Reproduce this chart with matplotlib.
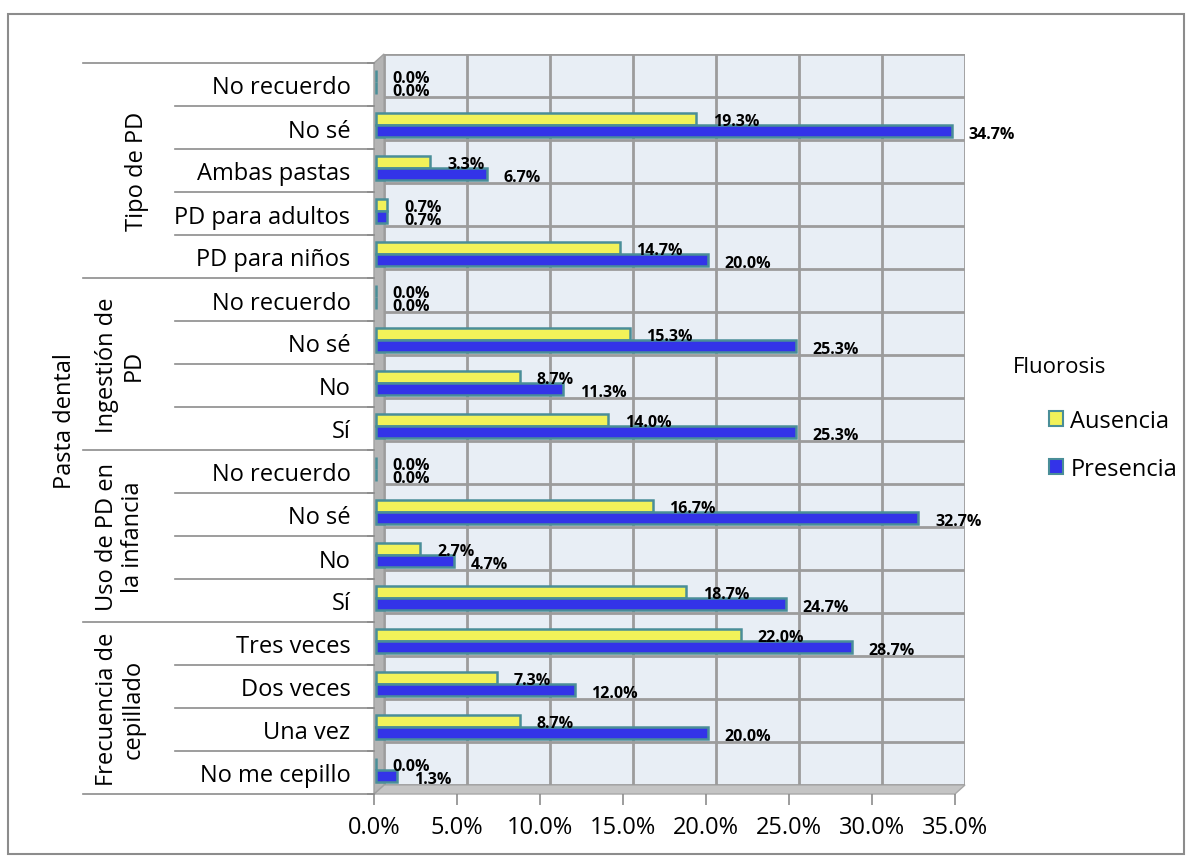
import matplotlib
matplotlib.use('Agg')
import matplotlib.pyplot as plt
from matplotlib.patches import Patch, Polygon, Rectangle
import numpy as np

plt.rcParams['font.family'] = ['Open Sans', 'DejaVu Sans']

# datos (de arriba hacia abajo)
grupos = ['Tipo de PD', 'Ingestión de\nPD', 'Uso de PD en\nla infancia', 'Frecuencia de\ncepillado']
categorias = [
    ['No recuerdo', 'No sé', 'Ambas pastas', 'PD para adultos', 'PD para niños'],
    ['No recuerdo', 'No sé', 'No', 'Sí'],
    ['No recuerdo', 'No sé', 'No', 'Sí'],
    ['Tres veces', 'Dos veces', 'Una vez', 'No me cepillo'],
]
ausencia = [0.0, 19.3, 3.3, 0.7, 14.7,
            0.0, 15.3, 8.7, 14.0,
            0.0, 16.7, 2.7, 18.7,
            22.0, 7.3, 8.7, 0.0]
presencia = [0.0, 34.7, 6.7, 0.7, 20.0,
             0.0, 25.3, 11.3, 25.3,
             0.0, 32.7, 4.7, 24.7,
             28.7, 12.0, 20.0, 1.3]
xticks = [0, 5, 10, 15, 20, 25, 30, 35]

etiquetas = [c for g in categorias for c in g]
n = len(etiquetas)
y = np.arange(n)

W, H = 1192, 862
fig = plt.figure(figsize=(W / 100, H / 100), dpi=100)

def fx(px):
    return px / W

def fy(py):
    return 1 - py / H

# marco exterior
fig.patches.append(Rectangle((fx(8), fy(855)), fx(1176), 840 / H, transform=fig.transFigure,
                             fill=False, edgecolor='#8c8c8c', linewidth=1.5))

# pared del fondo (efecto 3D)
x0, x1, ytop, ybot = 374, 955, 64, 795
dx, dy = 10, 9
axw = fig.add_axes([fx(x0 + dx), fy(ybot - dy), fx(x1 - x0), (ybot - ytop) / H])
axw.set_facecolor('#E8EEF5')
axw.set_xlim(0, 35)
axw.set_ylim(n - 0.5, -0.5)
for v in xticks:
    axw.axvline(v, color='#9c9c9c', lw=2)
for b in np.arange(-0.5, n, 1):
    axw.axhline(b, color='#9c9c9c', lw=2)
axw.set_xticks([])
axw.set_yticks([])
for s in axw.spines.values():
    s.set_visible(False)

# piso y pared lateral
fig.patches.append(Polygon([(fx(x0), fy(ybot)), (fx(x1), fy(ybot)), (fx(x1 + dx), fy(ybot - dy)),
                            (fx(x0 + dx), fy(ybot - dy))], closed=True, transform=fig.transFigure,
                           facecolor='#c4c4c4', edgecolor='#a8a8a8', lw=1, zorder=-1))
fig.patches.append(Polygon([(fx(x0), fy(ytop)), (fx(x0 + dx), fy(ytop - dy)), (fx(x0 + dx), fy(ybot - dy)),
                            (fx(x0), fy(ybot))], closed=True, transform=fig.transFigure,
                           facecolor='#b4b4b4', edgecolor='#a0a0a0', lw=1, zorder=-1))

ax = fig.add_axes([fx(x0), fy(ybot), fx(x1 - x0), (ybot - ytop) / H])
ax.patch.set_alpha(0)
ax.set_xlim(0, 35)
ax.set_ylim(n - 0.5, -0.5)

borde = '#4A8E98'
ax.barh(y - 0.2, ausencia, left=0.1, height=0.27, color='#F2F259', edgecolor=borde, linewidth=1.8, zorder=3)
ax.barh(y + 0.08, presencia, left=0.1, height=0.27, color='#3333E8', edgecolor=borde, linewidth=1.8, zorder=3)

for i in range(n):
    ax.text(ausencia[i] + 1.1, y[i] - 0.16, f'{ausencia[i]:.1f}%', va='center', ha='left',
            fontsize=11.5, fontweight='bold', zorder=5)
    ax.text(presencia[i] + 1.1, y[i] + 0.16, f'{presencia[i]:.1f}%', va='center', ha='left',
            fontsize=11.5, fontweight='bold', zorder=5)

for s in ax.spines.values():
    s.set_visible(False)
ax.set_xticks(xticks)
ax.set_xticklabels([f'{v:.1f}%' for v in xticks], fontsize=17)
ax.tick_params(axis='x', length=8, width=1.2, color='#8c8c8c', pad=7)
ax.set_yticks(y)
ax.set_yticklabels(etiquetas, fontsize=17)
ax.tick_params(axis='y', length=0, pad=17)
ax.set_yticks(np.arange(-0.5, n, 1), minor=True)
ax.tick_params(axis='y', which='minor', length=5, width=1.2, color='#8c8c8c')

# líneas separadoras de la zona de etiquetas
tr = ax.get_yaxis_transform()
inner = (175 - x0) / (x1 - x0)
outer = (83 - x0) / (x1 - x0)
inicio = 0
bordes = [-0.5]
for g in categorias:
    inicio += len(g)
    bordes.append(inicio - 0.5)
for b in np.arange(-0.5, n, 1):
    xs = outer if b in bordes else inner
    ax.plot([xs, 0], [b, b], transform=tr, color='#8c8c8c', lw=1.2, clip_on=False)

gx = [137, 120, 120, 120]
for k, g in enumerate(grupos):
    centro = (bordes[k] + bordes[k + 1]) / 2
    ax.text((gx[k] - x0) / (x1 - x0), centro, g, transform=tr, rotation=90, ha='center', va='center',
            fontsize=17, multialignment='center', linespacing=1.15)
ax.text((65 - x0) / (x1 - x0), (n - 1) / 2 - 0.2, 'Pasta dental', transform=tr, rotation=90,
        ha='center', va='center', fontsize=17)

# leyenda
fig.text(fx(1013), fy(368), 'Fluorosis', fontsize=16, va='center', ha='left')
handles = [Patch(facecolor='#F2F259', edgecolor=borde, lw=1.5),
           Patch(facecolor='#3333E8', edgecolor=borde, lw=1.5)]
fig.legend(handles, ['Ausencia', 'Presencia'], loc='upper left', bbox_to_anchor=(fx(1028), fy(389)),
           frameon=False, fontsize=17, handlelength=0.6, handleheight=0.6, handletextpad=0.3,
           labelspacing=1.0)

fig.savefig('out.png', dpi=100)
